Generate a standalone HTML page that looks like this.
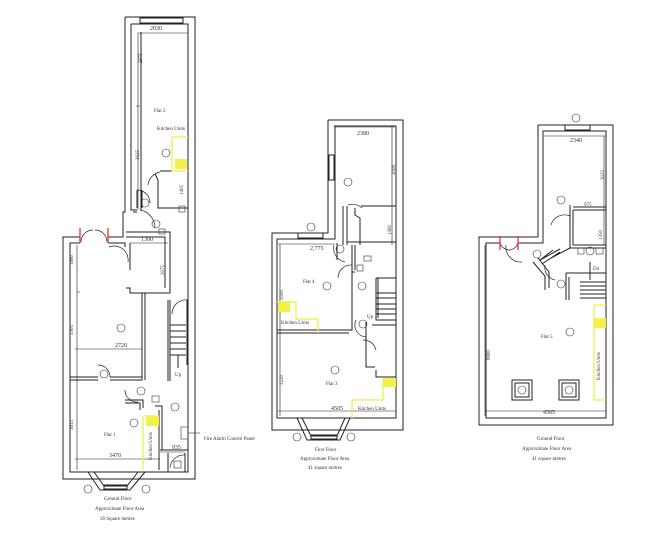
<!DOCTYPE html>
<html><head><meta charset="utf-8"><style>
html,body{margin:0;padding:0;background:#fff;width:670px;height:542px;overflow:hidden}
svg{display:block}
text{font-family:"Liberation Serif",serif;fill:#333}
</style></head><body>
<svg width="670" height="542" viewBox="0 0 670 542" xmlns="http://www.w3.org/2000/svg">
<g fill="none" stroke="#222" stroke-width="1">
<!-- ===== LEFT PLAN ===== -->
<path d="M125,17 H195 V479 H63 V237 H80"/>
<path d="M108,237 H123 V212 H125 V17"/>
<path d="M131,24 H188 V472 H70 V243 H80"/>
<path d="M108,243 H125 V247"/>
<path d="M131,24 V210 H137"/>
<path d="M141,32 V210"/>
<path d="M133,212 H137"/>
<rect x="140" y="18" width="43" height="5"/>
<path d="M160,171 H188 M155,174 L158,180 V208 H188"/>
<path d="M137,190 V208 M142,190 V208"/>
<path d="M126,232 H170 V293 H130 V288 H126 M126,237 H165 V288 M130,243 V270"/>
<path d="M70,355 V360 M142,293 V380 M145,293 V380"/>
<path d="M70,377 H98 M110,377 H142 M70,380 H98 M110,380 H142"/>
<path d="M125,400 H143 V408 M125,403 H140 V410 M155,406 H162 V450 H168 M159,410 V470"/>
<path d="M160,450 H188 M168,453 V472 M185,453 V472"/>
<path d="M168,300 V381 M170,300 V381 M187,300 V365"/>
<path d="M170,325 H186 M170,331 H186 M170,337 H186 M170,343 H186 M170,349 H186 M170,355 H186"/>
<path d="M178,355 V368"/>
<path d="M88,472 L100,490 H130 L145,472 M94,472 L104,486 H127 L138,472"/>
<rect x="104" y="485" width="23" height="4"/>
<path d="M140,210 A18,18 0 0 1 155,228" stroke-width="0.7"/>
<path d="M160,172 A15,15 0 0 0 148,185" stroke-width="0.7"/>
<path d="M137,190 A13,13 0 0 1 150,203" stroke-width="0.7"/>
<path d="M109,247 A14,14 0 0 1 128,262" stroke-width="0.7"/>
<path d="M98,365 A12,12 0 0 1 110,377" stroke-width="0.7"/>
<path d="M125,390 A12,12 0 0 0 138,402" stroke-width="0.7"/>
<path d="M188,300 A14,14 0 0 0 172,314" stroke-width="0.7"/>
<path d="M185,455 A14,14 0 0 0 170,468" stroke-width="0.7"/>
<path d="M81,242 A12,12 0 0 1 93,230 M107,242 A12,12 0 0 0 95,230" stroke-width="0.7"/>
<g stroke-width="0.6">
<path d="M138,33 H188 M136,106 H140 M77,292 H80 M75,349 H142 M75,459 H160 M77,245 V470 M138,33 V210 M160,452 H185 M130,243 H168"/>
</g>
<!-- ===== MIDDLE PLAN ===== -->
<path d="M328,120 H403 V430 H272 V233 H328 V120"/>
<path d="M334,126 H396 V418 H277 V239 H335 V126"/>
<rect x="329" y="155" width="5" height="25"/>
<rect x="298" y="233" width="25" height="5"/>
<path d="M343,206 V245 M347,206 V245 M361,206 H396 M355,208 V215 L360,218 V245 M347,242 H396 M337,243 V260"/>
<path d="M277,330 H352 V272 H355 M277,333 H349"/>
<path d="M352,245 V320 M355,245 V270"/>
<path d="M376,278 V320 H396 M378,278 V318 M376,278 H396"/>
<path d="M376,293 H396 M376,298 H396 M376,304 H396 M376,309 H396 M376,314 H396"/>
<path d="M366,322 V367 H375 M372,325 H396 V377 H376 V370"/>
<path d="M297,418 L307,440 H340 L350,418 M302,418 L311,436 H337 L345,418"/>
<rect x="311" y="435" width="26" height="4"/>
<path d="M348,205 A15,15 0 0 1 362,208" stroke-width="0.7"/>
<path d="M334,245 A14,14 0 0 0 345,262" stroke-width="0.7"/>
<path d="M352,265 A13,13 0 0 0 338,278" stroke-width="0.7"/>
<path d="M356,320 A12,12 0 0 0 366,337" stroke-width="0.7"/>
<path d="M376,350 A13,13 0 0 0 363,340" stroke-width="0.7"/>
<g stroke-width="0.6">
<path d="M335,127 H395 M392,127 V245 M278,244 H335 M280,244 V416 M278,411 H396"/>
</g>
<!-- ===== RIGHT PLAN ===== -->
<path d="M538,125 H613 V425 H479 V237 H538 V125"/>
<path d="M543,131 H606 V418 H486 V243 H500"/>
<path d="M518,243 H543 V131"/>
<rect x="565" y="125" width="25" height="5"/>
<path d="M573,207 H606 M573,210 H606 M570,205 V248 M573,210 V245 M573,245 H606 M570,248 H606"/>
<path d="M553,250 L540,260 L560,249 M560,252 L542,264 M551,258 L570,248"/>
<path d="M533,262 L545,276 V290 M538,258 L549,272 V288"/>
<path d="M566,273 V300 M569,277 V300 M566,273 H587 M580,273 H606"/>
<path d="M580,282 H606 M580,286 H606 M580,290 H606 M580,294 H606 M580,298 H606"/>
<path d="M590,262 V280"/>
<rect x="512" y="380" width="20" height="20"/><rect x="515" y="383" width="14" height="14"/>
<rect x="559" y="380" width="20" height="20"/><rect x="562" y="383" width="14" height="14"/>
<path d="M551,225 A14,14 0 0 1 570,216" stroke-width="0.7"/>
<path d="M545,265 A13,13 0 0 0 555,280" stroke-width="0.7"/>
<path d="M506,245 A15,15 0 0 0 522,262" stroke-width="0.7"/>
<path d="M500,243 A10,10 0 0 0 510,250 M518,243 A10,10 0 0 1 510,250" stroke-width="0.7"/>
<g stroke-width="0.6">
<path d="M544,136 H606 M604,136 V245 M485,245 V416 M485,411 H606 M580,207 H605"/>
</g>
</g>
<g stroke="#e33" stroke-width="1.3" fill="none">
<path d="M80,228 V243 M108,228 V243"/>
<path d="M500,236 V250 M518,236 V250"/>
</g>
<g stroke="#ee4" stroke-width="1.2" fill="none">
<path d="M172,137 V171 H188 M172,137 H188"/>
<path d="M143,416 V470 M143,416 H159"/>
<path d="M277,302 H296 V319 H318 V333"/>
<path d="M396,379 H383 V400 H352 V418"/>
<path d="M594,305 V400 H606 M594,305 H606"/>
</g>
<g fill="#f4f04a">
<rect x="175" y="159" width="12" height="10"/>
<rect x="146" y="416" width="13" height="10"/>
<rect x="278" y="302" width="12" height="10"/>
<rect x="383" y="378" width="13" height="9"/>
<rect x="594" y="318" width="12" height="10"/>
</g>
<g fill="none" stroke="#333" stroke-width="0.6">
<circle cx="166" cy="153" r="4"/><circle cx="145" cy="203" r="4"/><circle cx="156" cy="224" r="4"/>
<circle cx="121" cy="328" r="4"/><circle cx="104" cy="374" r="4"/><circle cx="141" cy="391" r="4"/>
<circle cx="175" cy="407" r="4"/><circle cx="134" cy="423" r="4"/><circle cx="88" cy="489" r="4"/><circle cx="146" cy="489" r="4"/>
<circle cx="311" cy="227" r="4"/><circle cx="340" cy="249" r="4"/><circle cx="348" cy="182" r="4"/>
<circle cx="327" cy="286" r="4"/><circle cx="362" cy="286" r="4"/><circle cx="363" cy="324" r="4"/>
<circle cx="335" cy="370" r="4"/><circle cx="297" cy="437" r="4"/><circle cx="351" cy="437" r="4"/>
<circle cx="576" cy="118" r="4"/><circle cx="561" cy="200" r="4"/><circle cx="537" cy="254" r="4"/>
<circle cx="561" cy="284" r="4"/><circle cx="590" cy="251" r="4"/><circle cx="570" cy="332" r="4"/>
<circle cx="522" cy="390" r="4"/><circle cx="569" cy="390" r="4"/>
</g>
<g fill="none" stroke="#333" stroke-width="0.6">
<rect x="179" y="206" width="6" height="6"/><rect x="159" y="229" width="6" height="5"/>
<rect x="152" y="396" width="7" height="6"/><rect x="174" y="461" width="7" height="7"/>
<rect x="181" y="427" width="7" height="12"/>
<rect x="364" y="256" width="7" height="5"/><rect x="357" y="265" width="6" height="6"/>
<rect x="578" y="248" width="6" height="6"/><rect x="596" y="248" width="7" height="6"/>
</g>
<path d="M188,433 H200" stroke="#333" stroke-width="0.6"/>
<g font-size="5">
<text x="150" y="30" font-size="6">2030</text>
<text x="154" y="112">Flat 2</text>
<text x="157" y="130">Kitchen Units</text>
<text x="115" y="347" font-size="6">2720</text>
<text x="104" y="436">Flat 1</text>
<text x="109" y="457" font-size="6">3470</text>
<text x="172" y="449" font-size="6">935</text>
<text x="175" y="376">Up</text>
<text x="204" y="440">Fire Alarm Control Panel</text>
<text x="104" y="500">Ground Floor</text>
<text x="95" y="510">Approximate Floor Area</text>
<text x="100" y="520">36 Square metres</text>
<text x="142" y="63" transform="rotate(-90 142 63)">2975</text>
<text x="139" y="160" transform="rotate(-90 139 160)">3025</text>
<text x="183" y="195" transform="rotate(-90 183 195)">1405</text>
<text x="141" y="241" font-size="6">1300</text>
<text x="164" y="275" transform="rotate(-90 164 275)">2075</text>
<text x="73" y="265" transform="rotate(-90 73 265)">1660</text>
<text x="73" y="335" transform="rotate(-90 73 335)">3305</text>
<text x="73" y="430" transform="rotate(-90 73 430)">3615</text>
<text x="152" y="460" transform="rotate(-90 152 460)">Kitchen Units</text>
<text x="357" y="135" font-size="6">2380</text>
<text x="395" y="175" transform="rotate(-90 395 175)">3008</text>
<text x="391" y="235" transform="rotate(-90 391 235)">1360</text>
<text x="310" y="250" font-size="6">2,775</text>
<text x="303" y="283">Flat 4</text>
<text x="283" y="300" transform="rotate(-90 283 300)">3500</text>
<text x="281" y="324">Kitchen Units</text>
<text x="367" y="318">Up</text>
<text x="326" y="385">Flat 3</text>
<text x="283" y="385" transform="rotate(-90 283 385)">3220</text>
<text x="331" y="410" font-size="6">4505</text>
<text x="358" y="410">Kitchen Units</text>
<text x="315" y="451">First Floor</text>
<text x="300" y="460">Approximate Floor Area</text>
<text x="308" y="469">41 square metres</text>
<text x="570" y="142" font-size="6">2340</text>
<text x="604" y="180" transform="rotate(-90 604 180)">3025</text>
<text x="584" y="206">975</text>
<text x="602" y="240" transform="rotate(-90 602 240)">1350</text>
<text x="593" y="270">Dn</text>
<text x="541" y="338">Flat 5</text>
<text x="490" y="360" transform="rotate(-90 490 360)">8680</text>
<text x="600" y="380" transform="rotate(-90 600 380)">Kitchen Units</text>
<text x="543" y="414" font-size="6">4585</text>
<text x="537" y="440">Ground Floor</text>
<text x="522" y="450">Approximate Floor Area</text>
<text x="532" y="460">41 square metres</text>
</g>
</svg>
</body></html>
